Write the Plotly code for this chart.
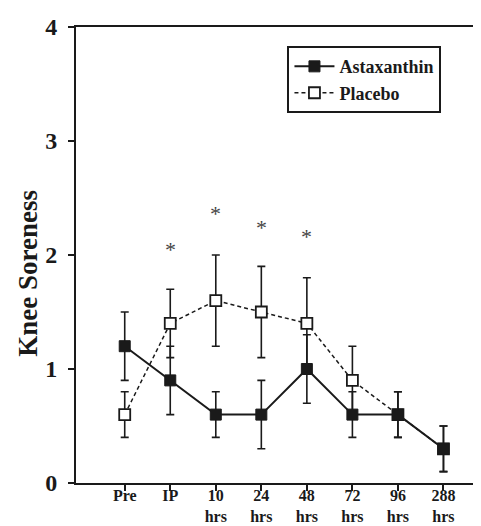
import plotly.graph_objects as go

categories = ["Pre", "IP", "10<br>hrs", "24<br>hrs", "48<br>hrs", "72<br>hrs", "96<br>hrs", "288<br>hrs"]
asta_mean = [1.2, 0.9, 0.6, 0.6, 1.0, 0.6, 0.6, 0.3]
asta_err = [0.3, 0.3, 0.2, 0.3, 0.3, 0.2, 0.2, 0.2]
placebo_mean = [0.6, 1.4, 1.6, 1.5, 1.4, 0.9, 0.6, 0.3]
placebo_err = [0.2, 0.3, 0.4, 0.4, 0.4, 0.3, 0.2, 0.2]
star_idx = [1, 2, 3, 4]
star_y = [1.98, 2.29, 2.17, 2.09]
y_ticks = [0, 1, 2, 3, 4]

xi = list(range(len(categories)))
ink = "#1a1a1a"
font = "Liberation Serif"

fig = go.Figure()
fig.add_trace(go.Scatter(
    x=xi, y=placebo_mean, name="Placebo", mode="lines+markers",
    line=dict(color=ink, width=1.5, dash="4px,3px"),
    marker=dict(symbol="square", size=11, color="white", line=dict(color=ink, width=1.8)),
    error_y=dict(type="data", array=placebo_err, color=ink, thickness=1.6, width=4),
))
fig.add_trace(go.Scatter(
    x=xi, y=asta_mean, name="Astaxanthin", mode="lines+markers",
    line=dict(color=ink, width=2),
    marker=dict(symbol="square", size=11, color=ink, line=dict(color=ink, width=1)),
    error_y=dict(type="data", array=asta_err, color=ink, thickness=1.6, width=4),
))

for i, y in zip(star_idx, star_y):
    fig.add_annotation(x=i, y=y, text="*", showarrow=False,
                       font=dict(family=font, size=22, color="#444"),
                       yanchor="middle", yshift=8)

fig.add_annotation(xref="paper", yref="paper", x=-0.115, y=0.46,
                   text="Knee Soreness", textangle=-90, showarrow=False,
                   xanchor="center", yanchor="middle",
                   font=dict(family=font, size=27, color=ink, weight="bold"))

fig.update_layout(
    width=481, height=526,
    margin=dict(l=68, r=0, t=19, b=51),
    paper_bgcolor="white", plot_bgcolor="white",
    font=dict(family=font, color=ink),
    showlegend=True,
    legend=dict(
        x=0.512, y=0.958, xanchor="left", yanchor="top",
        bordercolor=ink, borderwidth=2, bgcolor="white",
        font=dict(family=font, size=18, color=ink, weight="bold"),
        traceorder="reversed", itemwidth=40, tracegroupgap=0,
    ),
    xaxis=dict(
        range=[-1.07, 8.0], tickmode="array", tickvals=xi, ticktext=categories,
        showgrid=False, zeroline=False, showline=True, linecolor=ink, linewidth=2,
        mirror=True, ticks="outside", ticklen=6, tickwidth=1.5, tickcolor=ink,
        tickfont=dict(family=font, size=16, color=ink, weight="bold"),
        ticklabelstandoff=-9,
        automargin=False,
    ),
    yaxis=dict(
        range=[0, 4], tickmode="array", tickvals=y_ticks,
        showgrid=False, zeroline=False, showline=True, linecolor=ink, linewidth=2,
        ticks="outside", ticklen=6, tickwidth=1.5, tickcolor=ink,
        tickfont=dict(family=font, size=24, color=ink, weight="bold"),
        ticklabelstandoff=6,
        automargin=False,
    ),
)

fig.write_html("out.html")
